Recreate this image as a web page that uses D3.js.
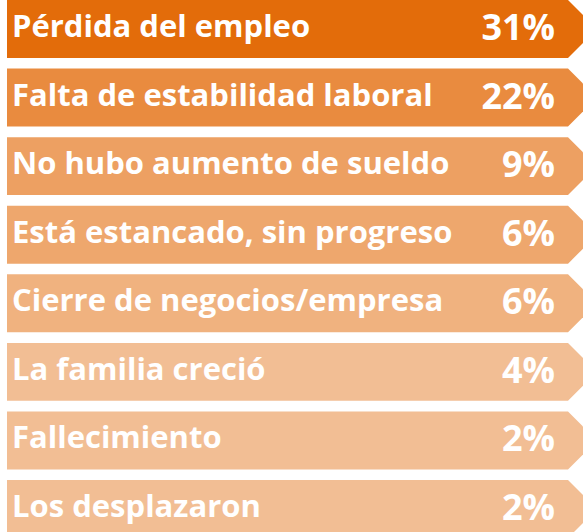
<!DOCTYPE html>
<html>
<head>
<meta charset="utf-8">
<script src="https://cdn.jsdelivr.net/npm/d3@7"></script>
<style>
html,body{margin:0;padding:0;background:#fff;}
svg{display:block;}
</style>
</head>
<body>
<svg id="chart" width="583" height="532"></svg>
<script>
const categories = [
  "Pérdida del empleo",
  "Falta de estabilidad laboral",
  "No hubo aumento de sueldo",
  "Está estancado, sin progreso",
  "Cierre de negocios/empresa",
  "La familia creció",
  "Fallecimiento",
  "Los desplazaron"
];
const values = [31, 22, 9, 6, 6, 4, 2, 2];
const valueLabels = ["31%", "22%", "9%", "6%", "6%", "4%", "2%", "2%"];

const palette = ["#E36C0A", "#E98B3F", "#EDA062", "#EEA76D", "#F0B27F", "#F2BE94", "#F2BE94", "#F2BE94"];

const W = 583, H = 532;
const svg = d3.select("#chart");

const y = d3.scaleBand()
  .domain(categories)
  .range([0, 538])
  .paddingInner(0.155)
  .paddingOuter(0);

const x = d3.scaleLinear().domain([0, 1]).range([7, 568]);

const bw = y.bandwidth();

function arrowPath(c) {
  const t = y(c), b = t + bw, l = x(0), r = x(1);
  const p = d3.path();
  p.moveTo(l, t);
  p.lineTo(r, t);
  p.lineTo(r + bw / 2, t + bw / 2);
  p.lineTo(r, b);
  p.lineTo(l, b);
  p.closePath();
  return p.toString();
}

const g = svg.selectAll("g.row")
  .data(categories.map((c, i) => ({ c, v: values[i], lab: valueLabels[i], i })))
  .join("g")
  .attr("class", "row");

g.append("path")
  .attr("d", d => arrowPath(d.c))
  .attr("fill", d => palette[d.i]);

g.append("text")
  .attr("x", x(0) + 5)
  .attr("y", d => y(d.c) + bw / 2 + 8)
  .attr("font-family", "'Open Sans', Lato, sans-serif")
  .attr("font-weight", 700)
  .attr("font-size", 31)
  .attr("fill", "#fff")
  .text(d => d.c);

g.append("text")
  .attr("x", 555)
  .attr("y", d => y(d.c) + bw / 2 + 11)
  .attr("text-anchor", "end")
  .attr("font-family", "'Open Sans', Lato, sans-serif")
  .attr("font-weight", 700)
  .attr("font-size", 36)
  .attr("fill", "#fff")
  .text(d => d.lab);
</script>
</body>
</html>
